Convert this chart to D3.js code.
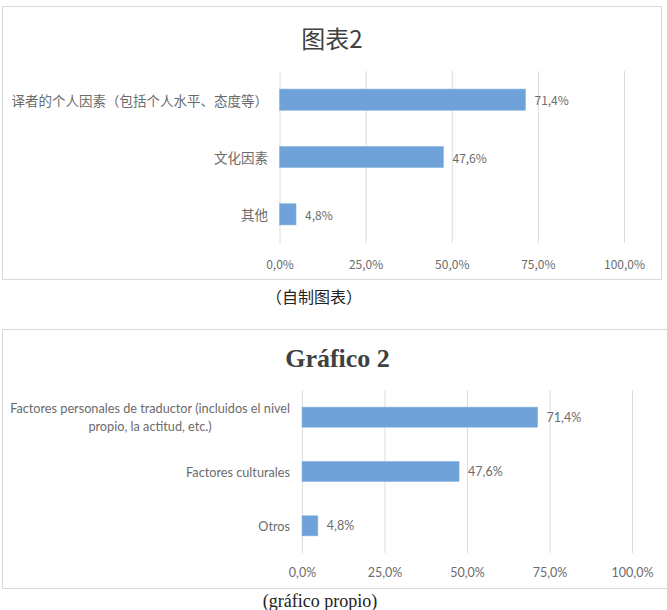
<!DOCTYPE html>
<html>
<head>
<meta charset="utf-8">
<script src="https://cdn.jsdelivr.net/npm/d3@7"></script>
<style>
  body { margin: 0; background: #fff; }
</style>
</head>
<body>
<svg id="chart"></svg>
<script>
// Data
const categoriesZh = ["译者的个人因素（包括个人水平、态度等）", "文化因素", "其他"];
const categoriesEs = ["Factores personales de traductor (incluidos el nivel\npropio, la actitud, etc.)", "Factores culturales", "Otros"];
const values = [71.4, 47.6, 4.8];
const tickValues = [0, 25, 50, 75, 100];
const titles = ["图表2", "Gráfico 2"];
const captions = ["（自制图表）", "(gráfico propio)"];

const svg = d3.select("#chart")
    .attr("width", 667)
    .attr("height", 610);

const pct = d => d.toFixed(1).replace(".", ",") + "%";
const textGrey = "#6b6b6b";

function drawBarChart(opts) {
    const g = svg.append("g");

    // outer frame
    g.append("rect")
        .attr("x", opts.box.x)
        .attr("y", opts.box.y)
        .attr("width", opts.box.w)
        .attr("height", opts.box.h)
        .attr("fill", "#fff")
        .attr("stroke", "#d9d9d9")
        .attr("stroke-width", 1);

    // title
    g.append("text")
        .attr("x", opts.box.x + opts.box.w / 2)
        .attr("y", opts.titleY)
        .attr("text-anchor", "middle")
        .attr("dominant-baseline", "central")
        .attr("font-family", opts.titleFont)
        .attr("font-size", opts.titleSize)
        .attr("font-weight", opts.titleWeight)
        .attr("fill", "#404040")
        .text(opts.title);

    const x = d3.scaleLinear()
        .domain([0, 100])
        .range([opts.left, opts.right]);

    // Excel style: gap width 170%
    const y = d3.scaleBand()
        .domain(opts.categories)
        .range([opts.top, opts.bottom])
        .paddingInner(0.63)
        .paddingOuter(0.315);

    // gridlines + tick labels
    const axis = g.append("g")
        .attr("transform", `translate(0,${opts.bottom})`)
        .call(d3.axisBottom(x)
            .tickValues(tickValues)
            .tickSize(-(opts.bottom - opts.top))
            .tickFormat(pct));
    axis.select(".domain").remove();
    axis.selectAll(".tick line")
        .attr("stroke", "#dcdcdc");
    axis.selectAll(".tick text")
        .attr("y", opts.tickY - opts.bottom)
        .attr("dy", null)
        .attr("dominant-baseline", "central")
        .attr("font-family", opts.font)
        .attr("font-size", opts.numSize)
        .attr("fill", textGrey);

    // bars
    g.selectAll(".bar")
        .data(values)
        .join("rect")
        .attr("class", "bar")
        .attr("x", x(0))
        .attr("y", (d, i) => y(opts.categories[i]))
        .attr("width", d => x(d) - x(0))
        .attr("height", y.bandwidth())
        .attr("fill", "#6fa2d8")
        .attr("stroke", "#8fb8e2")
        .attr("stroke-width", 0.6);

    // value labels
    g.selectAll(".value")
        .data(values)
        .join("text")
        .attr("class", "value")
        .attr("x", d => x(d) + 9)
        .attr("y", (d, i) => y(opts.categories[i]) + y.bandwidth() / 2)
        .attr("dominant-baseline", "central")
        .attr("font-family", opts.font)
        .attr("font-size", opts.numSize)
        .attr("fill", textGrey)
        .text(pct);

    // category labels (multi-line labels centred on each other, block right aligned)
    opts.categories.forEach(cat => {
        const lines = cat.split("\n");
        const cy = y(cat) + y.bandwidth() / 2;
        const lh = opts.lineHeight;
        const t = g.append("text")
            .attr("font-family", opts.font)
            .attr("font-size", opts.labelSize)
            .attr("fill", textGrey)
            .attr("dominant-baseline", "central");
        lines.forEach((ln, k) => {
            t.append("tspan")
                .attr("y", cy + (k - (lines.length - 1) / 2) * lh)
                .text(ln);
        });
        // measure widest line, then place lines
        const widths = t.selectAll("tspan").nodes().map(n => n.getComputedTextLength());
        const maxW = d3.max(widths);
        const centre = opts.labelRight - maxW / 2;
        t.selectAll("tspan")
            .attr("text-anchor", "middle")
            .attr("x", centre);
    });

    // caption under the frame
    svg.append("text")
        .attr("x", opts.captionX)
        .attr("y", opts.captionY)
        .attr("text-anchor", "middle")
        .attr("dominant-baseline", "central")
        .attr("font-family", opts.captionFont)
        .attr("font-size", opts.captionSize)
        .attr("fill", "#222")
        .text(opts.caption);
}

drawBarChart({
    categories: categoriesZh,
    title: titles[0],
    caption: captions[0],
    box: { x: 2.5, y: 6.5, w: 659, h: 273 },
    titleY: 37, titleFont: "'Noto Sans CJK SC', sans-serif", titleSize: 24, titleWeight: "normal",
    left: 279.5, right: 624, top: 71, bottom: 243, tickY: 263,
    labelRight: 268, labelSize: 13.5, lineHeight: 17, numSize: 12,
    font: "'Noto Sans CJK SC', sans-serif",
    captionX: 314, captionY: 296,
    captionFont: "'Noto Sans CJK SC', serif", captionSize: 16
});

drawBarChart({
    categories: categoriesEs,
    title: titles[1],
    caption: captions[1],
    box: { x: 2.5, y: 329.5, w: 670, h: 259 },
    titleY: 358, titleFont: "'Liberation Serif', 'Times New Roman', serif", titleSize: 26, titleWeight: "bold",
    left: 302, right: 632, top: 390, bottom: 553, tickY: 572,
    labelRight: 290, labelSize: 12.7, lineHeight: 18, numSize: 12.5,
    font: "Lato, 'Open Sans', sans-serif",
    captionX: 320, captionY: 601,
    captionFont: "'Liberation Serif', 'Times New Roman', serif", captionSize: 18
});
</script>
</body>
</html>
